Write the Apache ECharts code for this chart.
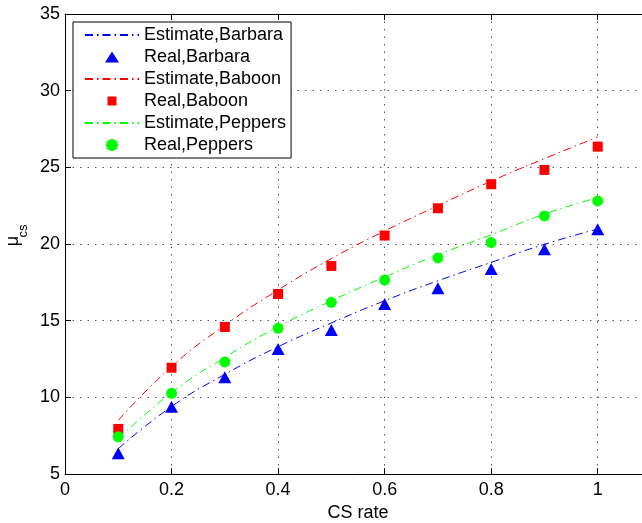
<!DOCTYPE html>
<html>
<head>
<meta charset="utf-8">
<script src="https://cdn.jsdelivr.net/npm/echarts@6/dist/echarts.min.js"></script>
<style>
html,body{margin:0;padding:0;background:#fff;}
#c{width:642px;height:523px;}
</style>
</head>
<body>
<div id="c"></div>
<script>
// CS rate values
var csRate = [0.1, 0.2, 0.3, 0.4, 0.5, 0.6, 0.7, 0.8, 0.9, 1.0];
// Estimated curves
var estBarbara = [6.65, 9.4, 11.5, 13.3, 14.85, 16.3, 17.6, 18.8, 19.98, 20.98];
var estBaboon  = [8.5, 12.0, 14.7, 17.0, 19.05, 20.85, 22.5, 24.1, 25.57, 26.98];
var estPeppers = [7.3, 10.3, 12.6, 14.6, 16.3, 17.85, 19.3, 20.6, 21.95, 23.03];
// Real measurements
var realBarbara = [6.35, 9.39, 11.31, 13.15, 14.39, 16.09, 17.11, 18.37, 19.66, 20.96];
var realBaboon  = [7.94, 11.93, 14.59, 16.74, 18.57, 20.55, 22.33, 23.9, 24.83, 26.35];
var realPeppers = [7.43, 10.26, 12.31, 14.5, 16.2, 17.65, 19.09, 20.09, 21.83, 22.81];
var seriesNames = ['Estimate,Barbara', 'Real,Barbara', 'Estimate,Baboon', 'Real,Baboon', 'Estimate,Peppers', 'Real,Peppers'];

function pairs(ys) { return csRate.map(function (x, i) { return [x, ys[i]]; }); }

var FONT = "'Liberation Sans', Arial, Helvetica, sans-serif";
var dashDot = [8, 4, 1.5, 4];

var chart = echarts.init(document.getElementById('c'), null, {renderer: 'canvas'});

function estSeries(name, ys, color) {
  return {
    name: name, type: 'line', data: pairs(ys), smooth: true,
    symbol: 'none', showSymbol: false,
    lineStyle: {color: color, width: 1, type: dashDot},
    itemStyle: {color: color},
    z: 2, silent: true
  };
}
function realSeries(name, ys, color, symbol, size) {
  return {
    name: name, type: 'scatter', data: pairs(ys),
    symbol: symbol, symbolSize: size,
    itemStyle: {color: color, opacity: 1},
    z: 3, silent: true
  };
}

var hiddenSym = {opacity: 0, color: 'rgba(0,0,0,0)'};

var option = {
  animation: false,
  backgroundColor: '#fff',
  textStyle: {fontFamily: FONT},
  grid: {left: 65, top: 14, width: 586, height: 460, containLabel: false, outerBoundsMode: 'none'},
  legend: {
    orient: 'vertical', left: 73, top: 22,
    padding: [2, 5, 2, 11],
    itemWidth: 54, itemHeight: 12, itemGap: 0,
    symbolKeepAspect: true,
    backgroundColor: '#fff', borderColor: '#000', borderWidth: 1,
    textStyle: {fontSize: 18, fontFamily: FONT, color: '#000', lineHeight: 22},
    data: [
      {name: seriesNames[0], itemStyle: hiddenSym},
      {name: seriesNames[1], icon: 'path://M0,0 M14,12 M7,0.5 L14,11.5 L0,11.5 Z'},
      {name: seriesNames[2], itemStyle: hiddenSym},
      {name: seriesNames[3], icon: 'path://M0,0 M12,12 M1.5,1.5 L10.5,1.5 L10.5,10.5 L1.5,10.5 Z'},
      {name: seriesNames[4], itemStyle: hiddenSym},
      {name: seriesNames[5], icon: 'circle'}
    ],
    selectedMode: false
  },
  xAxis: [{
    type: 'value', min: 0, max: 1.1, interval: 0.2,
    name: 'CS rate', nameLocation: 'middle', nameGap: 28,
    nameTextStyle: {fontSize: 18, color: '#000', fontFamily: FONT},
    axisLine: {show: true, onZero: false, lineStyle: {color: '#000', width: 1}},
    axisTick: {show: true, inside: true, length: 6, lineStyle: {color: '#000'}},
    axisLabel: {fontSize: 18, color: '#000', margin: 7, showMaxLabel: false, fontFamily: FONT},
    splitLine: {show: true, lineStyle: {color: '#555', width: 1, type: [1.5, 6]}}
  }, {
    type: 'value', position: 'top', min: 0, max: 1.1, interval: 0.2,
    axisLine: {show: true, onZero: false, lineStyle: {color: '#000', width: 1}},
    axisTick: {show: true, inside: true, length: 6, lineStyle: {color: '#000'}},
    axisLabel: {show: false},
    splitLine: {show: false}
  }],
  yAxis: [{
    type: 'value', min: 5, max: 35, interval: 5,
    axisLine: {show: true, onZero: false, lineStyle: {color: '#000', width: 1}},
    axisTick: {show: true, inside: true, length: 6, lineStyle: {color: '#000'}},
    axisLabel: {fontSize: 18, color: '#000', margin: 5, fontFamily: FONT},
    splitLine: {show: true, lineStyle: {color: '#555', width: 1, type: [1.5, 6]}}
  }],
  graphic: [
    {type: 'text', x: 13, y: 241, rotation: Math.PI / 2,
     style: {text: 'μ', fontSize: 18, fontFamily: FONT, fill: '#000', align: 'center', verticalAlign: 'middle'}},
    {type: 'text', x: 23, y: 231, rotation: Math.PI / 2,
     style: {text: 'cs', fontSize: 13, fontFamily: FONT, fill: '#000', align: 'center', verticalAlign: 'middle'}}
  ],
  series: [
    estSeries(seriesNames[0], estBarbara, '#0000ff'),
    realSeries(seriesNames[1], realBarbara, '#0000ff', 'triangle', [13, 12]),
    estSeries(seriesNames[2], estBaboon, '#ff0000'),
    realSeries(seriesNames[3], realBaboon, '#ff0000', 'rect', [10, 10]),
    estSeries(seriesNames[4], estPeppers, '#00ff00'),
    realSeries(seriesNames[5], realPeppers, '#00ff00', 'circle', 11)
  ]
};
chart.setOption(option);
</script>
</body>
</html>
